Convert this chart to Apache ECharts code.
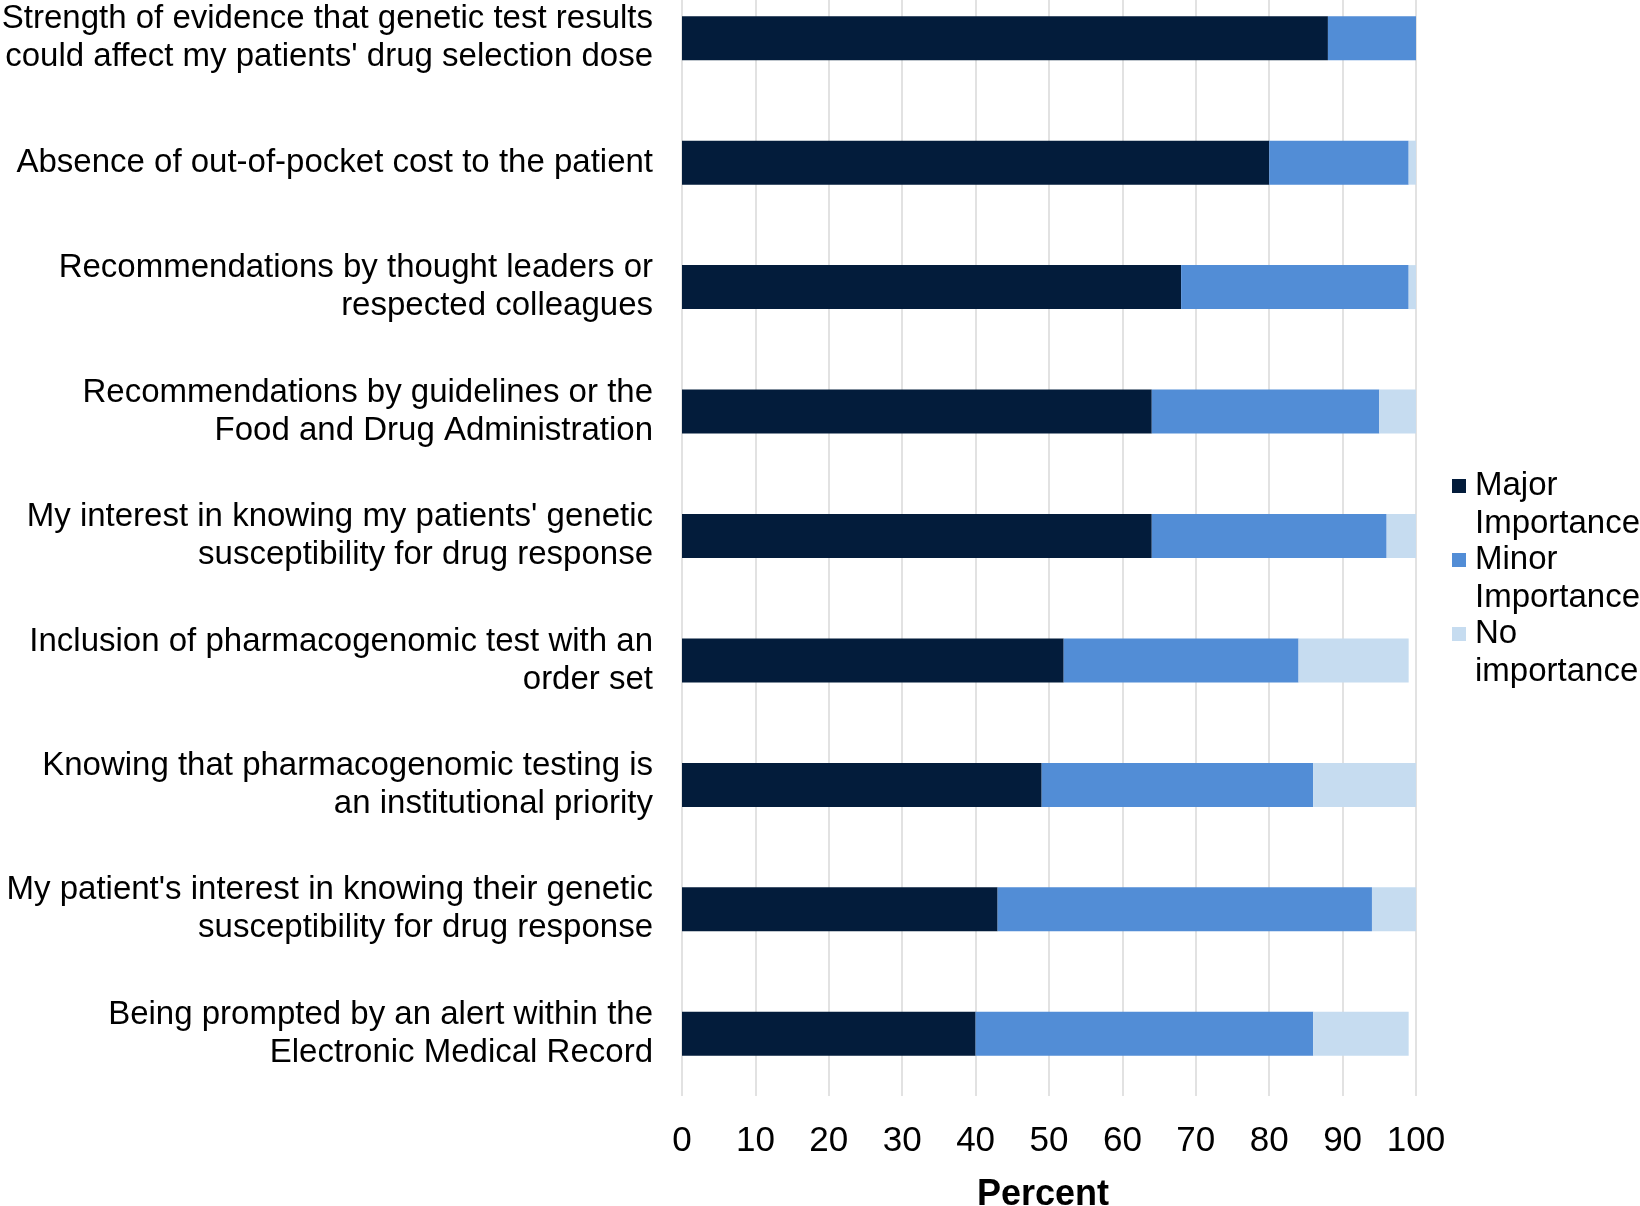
<!DOCTYPE html>
<html>
<head>
<meta charset="utf-8">
<script src="https://cdn.jsdelivr.net/npm/echarts@6/dist/echarts.min.js"></script>
<style>
  html, body { margin: 0; padding: 0; background: #fff; }
  #chart { width: 1640px; height: 1206px; }
</style>
</head>
<body>
<div id="chart"></div>
<script>
// Factors rated by importance (percent of respondents)
const categories = [
  "Strength of evidence that genetic test results\ncould affect my patients' drug selection dose",
  "Absence of out-of-pocket cost to the patient",
  "Recommendations by thought leaders or\nrespected colleagues",
  "Recommendations by guidelines or the\nFood and Drug Administration",
  "My interest in knowing my patients' genetic\nsusceptibility for drug response",
  "Inclusion of pharmacogenomic test with an\norder set",
  "Knowing that pharmacogenomic testing is\nan institutional priority",
  "My patient's interest in knowing their genetic\nsusceptibility for drug response",
  "Being prompted by an alert within the\nElectronic Medical Record"
];
const seriesNames = ["Major\nImportance", "Minor\nImportance", "No\nimportance"];
const majorImportance = [88, 80, 68, 64, 64, 52, 49, 43, 40];
const minorImportance = [12, 19, 31, 31, 32, 32, 37, 51, 46];
const noImportance    = [0, 1, 1, 5, 4, 15, 14, 6, 13];
const xTicks = [0, 10, 20, 30, 40, 50, 60, 70, 80, 90, 100];

const FONT = "'Liberation Sans', Arial, sans-serif";
const colors = ['#031C3B', '#528DD6', '#C6DCF0'];

const chart = echarts.init(document.getElementById('chart'), null, { renderer: 'canvas' });

const barSeries = [majorImportance, minorImportance, noImportance].map((vals, i) => ({
  name: seriesNames[i],
  type: 'bar',
  stack: 'total',
  barWidth: 44,
  data: vals,
  itemStyle: { color: colors[i] },
  emphasis: { disabled: true }
}));

chart.setOption({
  animation: false,
  backgroundColor: '#ffffff',
  textStyle: { fontFamily: FONT },
  grid: {
    left: 682,
    right: 224,
    top: -24,
    bottom: 110,
    containLabel: false,
    outerBoundsMode: 'none'
  },
  legend: {
    orient: 'vertical',
    left: 1452,
    top: 429,
    padding: 0,
    itemWidth: 14,
    itemHeight: 14,
    itemGap: -40,
    icon: 'rect',
    selectedMode: false,
    data: seriesNames,
    // a blank leading line keeps the swatch level with the first text line
    formatter: (name) => ' \n' + name,
    textStyle: {
      fontFamily: FONT,
      fontSize: 33,
      lineHeight: 38,
      color: '#000',
      padding: [0, 0, 0, 4]
    }
  },
  xAxis: {
    type: 'value',
    min: xTicks[0],
    max: xTicks[xTicks.length - 1],
    interval: 10,
    name: 'Percent',
    nameLocation: 'middle',
    nameGap: 81,
    nameTextStyle: {
      fontFamily: FONT, fontSize: 36, fontWeight: 'bold', color: '#000',
      padding: [0, 12, 0, 0]
    },
    axisLine: { show: false },
    axisTick: { show: false },
    axisLabel: { fontFamily: FONT, fontSize: 35, color: '#000', margin: 28 },
    splitLine: { show: true, lineStyle: { color: '#D9D9D9', width: 1.5 } }
  },
  yAxis: {
    type: 'category',
    inverse: true,
    data: categories,
    axisLine: { show: false },
    axisTick: { show: false },
    axisLabel: {
      fontFamily: FONT,
      fontSize: 33,
      lineHeight: 38,
      color: '#000',
      align: 'right',
      margin: 29,
      padding: [11, 0, 0, 0]
    }
  },
  series: barSeries
});
</script>
</body>
</html>
